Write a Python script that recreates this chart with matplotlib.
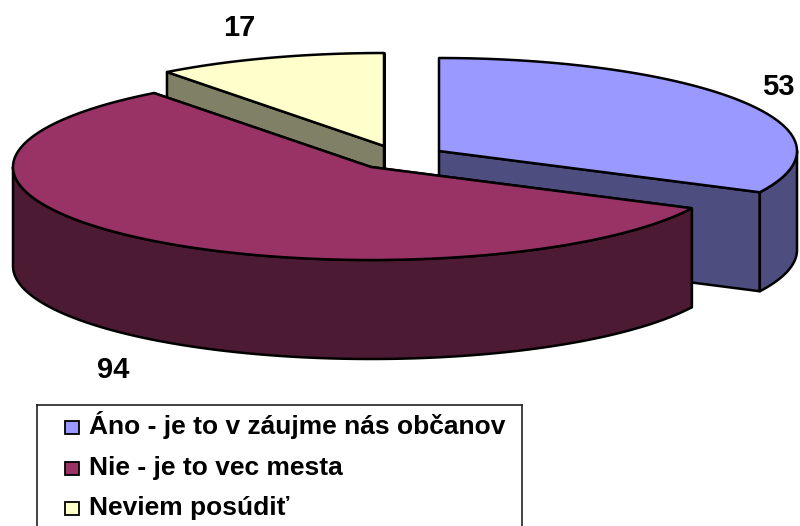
import numpy as np
import matplotlib
matplotlib.use("Agg")
import matplotlib.pyplot as plt
from matplotlib.patches import Polygon, Rectangle

## Data
categories = ["Áno - je to v záujme nás občanov", "Nie - je to vec mesta", "Neviem posúdiť"]
values = [53, 94, 17]

top_colors = ["#9999ff", "#993366", "#ffffcc"]
side_colors = ["#4d4d80", "#4d1a33", "#808066"]

## Pie geometry (image pixels)
rx = 358
ry = 93
depth = 99
centers = [(439, 151), (371, 167), (384, 146)]

plt.rcParams["font.family"] = ["Liberation Sans", "DejaVu Sans"]

fig = plt.figure(figsize=(8, 5.26), dpi=100)
ax = fig.add_axes([0, 0, 1, 1])
ax.set_xlim(0, 800)
ax.set_ylim(526, 0)
ax.axis("off")


def rim(center, a0, a1):
    # points along the ellipse, angles clockwise from 12 o'clock
    t = np.radians(np.linspace(a0, a1, 200))
    return np.column_stack((center[0] + rx * np.sin(t), center[1] - ry * np.cos(t)))


def face(pts, color, z):
    ax.add_patch(Polygon(pts, closed=True, facecolor=color, edgecolor="black",
                         linewidth=1.8, joinstyle="round", zorder=z))


def draw_slice(i, a0, a1, z):
    c = centers[i]
    down = np.array([0, depth])
    # cut faces
    for a in (a0, a1):
        tip = rim(c, a, a)[0]
        face([c, tip, tip + down, np.array(c) + down], side_colors[i], z)
    # outer wall, only the part facing the viewer
    lo = max(a0, 90)
    hi = min(a1, 270)
    if lo < hi:
        edge = rim(c, lo, hi)
        face(np.vstack((edge, edge[::-1] + down)), side_colors[i], z + 0.1)
    face(np.vstack(([c], rim(c, a0, a1))), top_colors[i], z + 0.2)


## Slices
angles = np.cumsum([0] + values) / sum(values) * 360
draw_slice(2, angles[2], angles[3], 1)
draw_slice(0, angles[0], angles[1], 2)
draw_slice(1, angles[1], angles[2], 3)

## Value labels
label_pos = [(778, 87), (113, 370), (239, 28)]
for v, (x, y) in zip(values, label_pos):
    ax.text(x, y, str(v), fontsize=21, fontweight="bold", ha="center", va="center", zorder=5)

## Legend box, cut by the image bottom
ax.plot([37, 37], [526, 405], color="#222222", lw=1.2, zorder=5)
ax.plot([37, 522], [405, 405], color="#222222", lw=1.2, zorder=5)
ax.plot([522, 522], [405, 526], color="#222222", lw=1.2, zorder=5)

legend_y = [434, 475, 515]
for name, color, y in zip(categories, top_colors, legend_y):
    ax.add_patch(Rectangle((65, y - 13), 14, 13, facecolor=color, edgecolor="black", lw=1.3, zorder=5))
    ax.text(89, y, name, fontsize=19, fontweight="bold", ha="left", va="baseline", zorder=5)

fig.savefig("out.png", dpi=100)
